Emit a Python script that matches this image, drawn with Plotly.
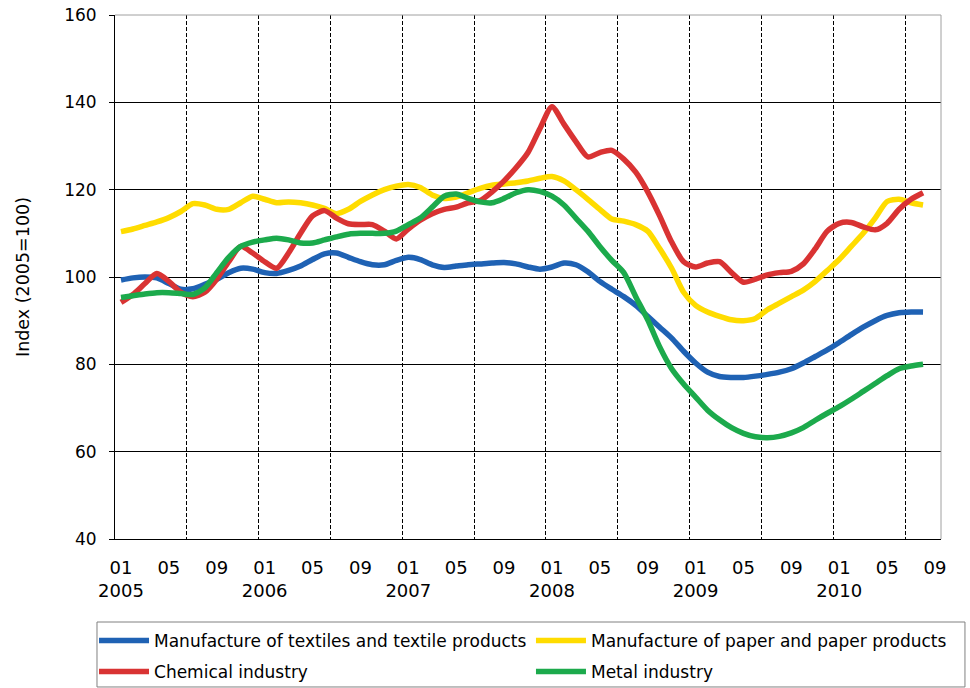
import plotly.graph_objects as go

# Categories: monthly, 2005-01 .. 2010-09 (last month has no data yet)
years = ["2005", "2006", "2007", "2008", "2009", "2010"]
month_codes = ["01", "02", "03", "04", "05", "06", "07", "08", "09", "10", "11", "12"]
months = [(y, m) for y in years for m in month_codes][:69]

series_names = [
    "Manufacture of textiles and textile products",
    "Manufacture of paper and paper products",
    "Chemical industry",
    "Metal industry",
]

textiles = [99.3, 99.8, 100, 99.8, 98.5, 97.2, 97.3, 98.3, 99.5, 101, 102, 101.8,
            101, 100.8, 101.5, 102.5, 104, 105.3, 105.5, 104.5, 103.5, 102.8, 102.8, 103.8,
            104.5, 104, 102.8, 102.2, 102.5, 102.8, 103, 103.2, 103.3, 103, 102.3, 101.8,
            102.3, 103.2, 102.8, 101.2, 99, 97.2, 95.5, 93.5, 91, 88.5, 86, 83,
            80.3, 78.2, 77.2, 77, 77, 77.3, 77.7, 78.2, 79, 80.3, 81.8, 83.3,
            85, 86.8, 88.5, 90, 91.2, 91.8, 92, 92]

paper = [110.4, 111, 111.8, 112.6, 113.6, 115, 116.8, 116.5, 115.5, 115.5, 117, 118.5,
         117.8, 117, 117.2, 117, 116.5, 115.7, 114.5, 115.5, 117.3, 118.8, 120, 120.8,
         121.2, 120.5, 118.8, 118, 118.3, 119.3, 120.3, 121, 121.3, 121.6, 122, 122.6,
         123, 122, 120, 117.8, 115.5, 113.3, 112.8, 112, 110.5, 106.5, 102, 96.5,
         93.5, 92, 91, 90.2, 90, 90.5, 92.5, 94, 95.5, 97, 99, 101.5,
         104, 107, 110, 113.5, 117.3, 117.8, 117, 116.5]

chemical = [94.2, 96, 98.5, 100.8, 99, 96.5, 95.5, 96.5, 99.5, 103.5, 107, 105.5,
            103.5, 102, 105.5, 110, 114, 115.2, 113.5, 112.2, 112, 112, 110.5, 108.7,
            111, 113, 114.5, 115.5, 116, 117, 117.5, 119.5, 122, 125, 128.5, 134,
            139, 135, 131, 127.5, 128.5, 129, 127, 124, 119.5, 114, 108, 103.5,
            102.3, 103.2, 103.5, 101, 98.8, 99.5, 100.5, 101, 101.3, 103, 106.5, 110.5,
            112.3, 112.5, 111.5, 110.8, 112.3, 115.5, 117.8, 119.3]

metal = [95.3, 95.7, 96.1, 96.4, 96.4, 96.2, 96, 97.5, 101, 104.5, 107, 108,
         108.5, 108.9, 108.5, 107.8, 107.8, 108.5, 109.2, 109.8, 110, 110, 110, 110.5,
         112, 113.5, 116, 118.5, 119, 118, 117.2, 117, 118, 119.3, 120, 119.6,
         118.5, 116.5, 113.5, 110.5, 107, 103.8, 101, 95.5, 90.2, 84, 79, 75.5,
         72.5, 69.5, 67.3, 65.5, 64.2, 63.4, 63.2, 63.5, 64.3, 65.5, 67.2, 68.8,
         70.3, 72, 73.8, 75.6, 77.4, 79, 79.6, 80]

colors = ["#1F62B4", "#FFDC00", "#D93333", "#1CAA4C"]
legend_ids = ["legend", "legend2", "legend3", "legend4"]

y_ticks = [40, 60, 80, 100, 120, 140, 160]

# tick labels every 4 months, year under January
tick_idx = list(range(0, len(months), 4))
tick_text = [(m + "<br>" + y) if m == "01" else m for (y, m) in [months[i] for i in tick_idx]]
# dashed separators every half-year (between categories)
half_year_bounds = [i - 0.5 for i in range(6, len(months), 6)]

FONT = "DejaVu Sans"

fig = go.Figure()
for name, vals, col, lg in zip(series_names, [textiles, paper, chemical, metal], colors, legend_ids):
    fig.add_trace(go.Scatter(
        x=list(range(len(vals))), y=vals, mode="lines", name=name,
        line=dict(color=col, width=5.5, shape="spline", smoothing=0.7),
        legend=lg,
    ))

legend_common = dict(
    orientation="h", xanchor="left", yanchor="middle", itemwidth=50,
    bgcolor="rgba(0,0,0,0)", borderwidth=0,
    font=dict(family=FONT, size=17, color="black"),
)
col_x = [-0.0254, 0.5036]
row_y = [-0.1947, -0.2538]

fig.update_layout(
    width=970, height=688,
    margin=dict(l=115, r=29, t=15, b=149, autoexpand=False),
    paper_bgcolor="white", plot_bgcolor="white",
    font=dict(family=FONT, size=17, color="black"),
    showlegend=True,
    xaxis=dict(
        range=[-0.5, len(months) - 0.5], automargin=False,
        tickmode="array", tickvals=tick_idx, ticktext=tick_text,
        showgrid=False, zeroline=False,
        showline=True, linecolor="black", linewidth=1,
        ticks="", ticklabelstandoff=12,
        tickfont=dict(family=FONT, size=18, color="black"),
        minor=dict(tickmode="array", tickvals=half_year_bounds, showgrid=True,
                   gridcolor="black", gridwidth=1, griddash="4px,2px"),
        fixedrange=True,
    ),
    yaxis=dict(
        range=[40, 160], tickmode="array", tickvals=y_ticks, automargin=False,
        showgrid=True, gridcolor="black", gridwidth=1, zeroline=False,
        showline=True, linecolor="black", linewidth=1,
        ticks="outside", ticklen=5, tickcolor="black",
        ticklabelstandoff=9,
        tickfont=dict(family=FONT, size=17, color="black"),
        title=dict(text="Index (2005=100)", standoff=30,
                   font=dict(family=FONT, size=17.5, color="black")),
        fixedrange=True,
    ),
    legend=dict(legend_common, x=col_x[0], y=row_y[0]),
    legend2=dict(legend_common, x=col_x[1], y=row_y[0]),
    legend3=dict(legend_common, x=col_x[0], y=row_y[1]),
    legend4=dict(legend_common, x=col_x[1], y=row_y[1]),
    shapes=[
        dict(type="line", xref="paper", yref="paper", x0=0, x1=1, y0=1, y1=1,
             line=dict(color="#A0A0A0", width=1), layer="above"),
        dict(type="line", xref="paper", yref="paper", x0=1, x1=1, y0=0, y1=1,
             line=dict(color="#A0A0A0", width=1), layer="above"),
        dict(type="rect", xref="paper", yref="paper", x0=-0.0218, x1=1.029,
             y0=-0.2824, y1=-0.1584, line=dict(color="#808080", width=1),
             fillcolor="rgba(0,0,0,0)", layer="above"),
    ],
)

fig.write_html("out.html", config={"displayModeBar": False},
               post_script="document.body.style.margin='0';")
